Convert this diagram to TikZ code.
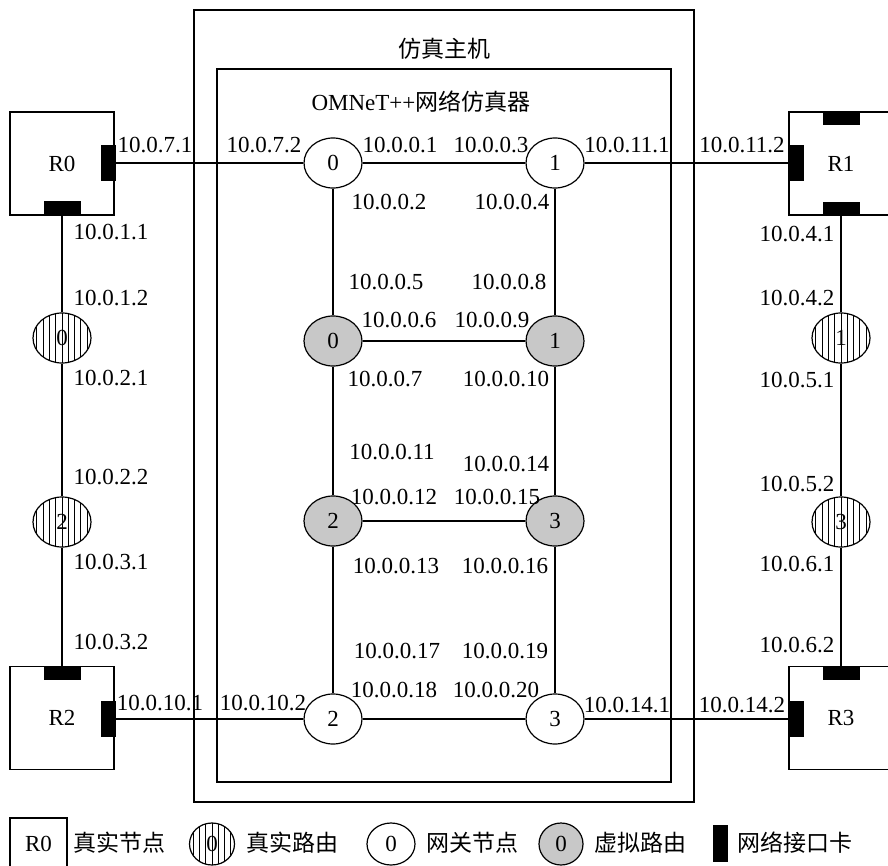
\documentclass[tikz,border=0pt]{standalone}
\usepackage{fontspec}
\setmainfont{Liberation Serif}
\newfontfamily\cjk{Noto Sans CJK SC}
\usetikzlibrary{shapes.geometric}
\definecolor{vrgray}{RGB}{200,200,200}
\tikzset{
  lbl/.style={font=\fontsize{23}{25}\selectfont, inner sep=0pt},
  cjklbl/.style={font=\fontsize{23}{26}\selectfont\cjk, inner sep=0pt},
  ell/.style={ellipse, draw, line width=1.2pt, minimum width=58pt, minimum height=50pt, inner sep=0pt, font=\fontsize{23}{25}\selectfont},
  gw/.style={ell, fill=white},
  vr/.style={ell, fill=vrgray},
  hatchlines/.style={path picture={\foreach \k in {-6,...,6}{\draw[line width=1pt] ([xshift=\k*6.3pt]path picture bounding box.north) -- ([xshift=\k*6.3pt]path picture bounding box.south);}}},
  rr/.style={ell, fill=white, hatchlines},
  rbox/.style={draw, line width=1.3pt, inner sep=0pt, minimum width=104pt, minimum height=103pt, font=\fontsize{23}{25}\selectfont},
  nic/.style={fill=black, inner sep=0pt},
  nicv/.style={nic, minimum width=15pt, minimum height=36pt},
  nich/.style={nic, minimum width=37pt, minimum height=14pt},
  conn/.style={line width=1.2pt},
  frame/.style={line width=1.3pt},
}
\begin{document}
\begin{tikzpicture}[x=1pt,y=-1pt]
\useasboundingbox[fill=white] (0,0) rectangle (888,866);
% frames
\draw[frame] (194,10) rectangle (694,802);
\draw[frame] (217,69) rectangle (671,782);
\node[cjklbl] (host) at (444,49) {仿真主机};
\node[lbl] (omnet) at (421,102) {OMNeT++{\cjk\fontsize{23}{26}\selectfont 网络仿真器}};
% real routers
\node[rbox] (R0) at (62,163.5) {R0};
\node[rbox] (R1) at (841,163.5) {R1};
\node[rbox] (R2) at (62,718) {R2};
\node[rbox] (R3) at (841,718) {R3};
\node[nicv] (R0e) at (108,163) {};
\node[nich] (R0s) at (62,208) {};
\node[nicv] (R1w) at (796,163) {};
\node[nich] (R1n) at (841,118) {};
\node[nich] (R1s) at (841,209) {};
\node[nich] (R2n) at (62,673) {};
\node[nicv] (R2e) at (108,719) {};
\node[nich] (R3n) at (841,673) {};
\node[nicv] (R3w) at (796,719) {};
% gateways and virtual routers
\node[gw] (g0) at (333,163) {0};
\node[gw] (g1) at (555,163) {1};
\node[gw] (g2) at (333,719) {2};
\node[gw] (g3) at (555,719) {3};
\node[vr] (v0) at (333,341) {0};
\node[vr] (v1) at (555,341) {1};
\node[vr] (v2) at (333,521) {2};
\node[vr] (v3) at (555,521) {3};
% real routing nodes
\node[rr] (h0) at (62,338) {0};
\node[rr] (h2) at (62,522) {2};
\node[rr] (h1) at (841,338) {1};
\node[rr] (h3) at (841,522) {3};
% connectors
\draw[conn] (R0e.east) -- (g0.west);
\draw[conn] (g0) -- (g1);
\draw[conn] (g1.east) -- (R1w.west);
\draw[conn] (R2e.east) -- (g2.west);
\draw[conn] (g2) -- (g3);
\draw[conn] (g3.east) -- (R3w.west);
\draw[conn] (g0) -- (v0);
\draw[conn] (v0) -- (v2);
\draw[conn] (v2) -- (g2);
\draw[conn] (g1) -- (v1);
\draw[conn] (v1) -- (v3);
\draw[conn] (v3) -- (g3);
\draw[conn] (v0) -- (v1);
\draw[conn] (v2) -- (v3);
\draw[conn] (R0s.south) -- (h0.north);
\draw[conn] (h0) -- (h2);
\draw[conn] (h2.south) -- (R2n.north);
\draw[conn] (R1s.south) -- (h1.north);
\draw[conn] (h1) -- (h3);
\draw[conn] (h3.south) -- (R3n.north);
% address labels
\node[lbl] (a71) at (155,145) {10.0.7.1};
\node[lbl] (a72) at (264,145) {10.0.7.2};
\node[lbl] (a001) at (400,145) {10.0.0.1};
\node[lbl] (a003) at (491,145) {10.0.0.3};
\node[lbl] (a111) at (627,145) {10.0.11.1};
\node[lbl] (a112) at (742,145) {10.0.11.2};
\node[lbl] (a002) at (389,202) {10.0.0.2};
\node[lbl] (a004) at (512,202) {10.0.0.4};
\node[lbl] (a005) at (386,282) {10.0.0.5};
\node[lbl] (a008) at (509,282) {10.0.0.8};
\node[lbl] (a006) at (399,320) {10.0.0.6};
\node[lbl] (a009) at (492,320) {10.0.0.9};
\node[lbl] (a007) at (385,379) {10.0.0.7};
\node[lbl] (a0010) at (506,379) {10.0.0.10};
\node[lbl] (a0011) at (392,452) {10.0.0.11};
\node[lbl] (a0014) at (506,464) {10.0.0.14};
\node[lbl] (a0012) at (394,497) {10.0.0.12};
\node[lbl] (a0015) at (497,497) {10.0.0.15};
\node[lbl] (a0013) at (396,566) {10.0.0.13};
\node[lbl] (a0016) at (505,566) {10.0.0.16};
\node[lbl] (a0017) at (397,651) {10.0.0.17};
\node[lbl] (a0019) at (505,651) {10.0.0.19};
\node[lbl] (a0018) at (394,690) {10.0.0.18};
\node[lbl] (a0020) at (496,690) {10.0.0.20};
\node[lbl] (a101) at (160,703) {10.0.10.1};
\node[lbl] (a102) at (263,703) {10.0.10.2};
\node[lbl] (a141) at (627,705) {10.0.14.1};
\node[lbl] (a142) at (742,705) {10.0.14.2};
\node[lbl] (a11) at (111,232) {10.0.1.1};
\node[lbl] (a12) at (111,298) {10.0.1.2};
\node[lbl] (a21) at (111,378) {10.0.2.1};
\node[lbl] (a22) at (111,477) {10.0.2.2};
\node[lbl] (a31) at (111,562) {10.0.3.1};
\node[lbl] (a32) at (111,642) {10.0.3.2};
\node[lbl] (a41) at (797,234) {10.0.4.1};
\node[lbl] (a42) at (797,298) {10.0.4.2};
\node[lbl] (a51) at (797,380) {10.0.5.1};
\node[lbl] (a52) at (797,484) {10.0.5.2};
\node[lbl] (a61) at (797,564) {10.0.6.1};
\node[lbl] (a62) at (797,645) {10.0.6.2};
% legend
\node[draw, line width=1.3pt, inner sep=0pt, minimum width=57pt, minimum height=52pt, font=\fontsize{23}{25}\selectfont] (kR0) at (38.5,844) {R0};
\node[cjklbl] (kt1) at (119,843) {真实节点};
\node[rr, minimum width=45pt, minimum height=42pt] (kh) at (212,844) {0};
\node[cjklbl] (kt2) at (292,843) {真实路由};
\node[gw, minimum width=48pt, minimum height=42pt] (kg) at (391,844) {0};
\node[cjklbl] (kt3) at (472,843) {网关节点};
\node[vr, minimum width=44pt, minimum height=42pt] (kv) at (561,844) {0};
\node[cjklbl] (kt4) at (640,843) {虚拟路由};
\node[nic, minimum width=15pt, minimum height=37pt] (kn) at (720.5,843.5) {};
\node[cjklbl] (kt5) at (795,843) {网络接口卡};
\end{tikzpicture}
\end{document}
